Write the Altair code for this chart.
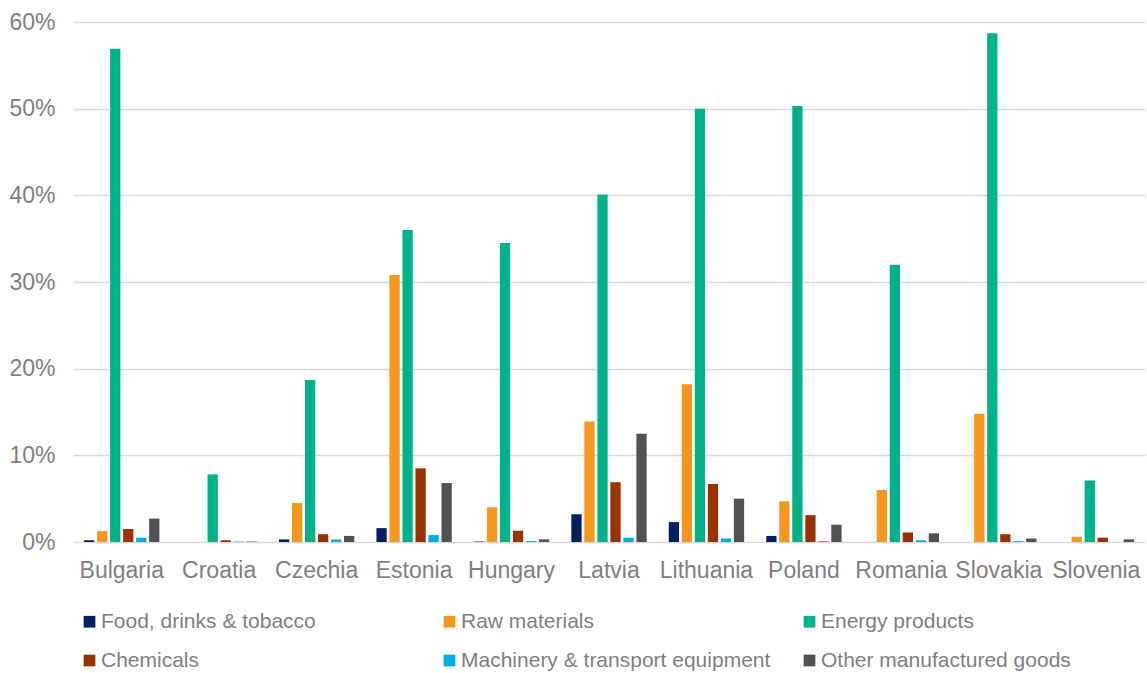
import altair as alt
import pandas as pd

countries = ["Bulgaria", "Croatia", "Czechia", "Estonia", "Hungary", "Latvia",
             "Lithuania", "Poland", "Romania", "Slovakia", "Slovenia"]

groups = ["Food, drinks & tobacco", "Raw materials", "Energy products",
          "Chemicals", "Machinery & transport equipment", "Other manufactured goods"]

colors = ["#002060", "#F7971D", "#00B189", "#993300", "#00B0E0", "#525252"]

# shares in percent, one list per product group, in country order
food      = [0.2, 0.0, 0.3, 1.6, 0.05, 3.2, 2.3, 0.7, 0.0, 0.0, 0.0]
raw       = [1.25, 0.0, 4.5, 30.8, 4.0, 13.9, 18.2, 4.7, 6.0, 14.8, 0.6]
energy    = [56.9, 7.8, 18.7, 36.0, 34.5, 40.1, 50.0, 50.3, 32.0, 58.7, 7.1]
chemicals = [1.5, 0.2, 0.9, 8.5, 1.3, 6.9, 6.7, 3.1, 1.1, 0.9, 0.5]
machinery = [0.5, 0.05, 0.3, 0.8, 0.1, 0.5, 0.4, 0.1, 0.2, 0.1, 0.0]
other     = [2.7, 0.05, 0.7, 6.8, 0.3, 12.5, 5.0, 2.0, 1.0, 0.4, 0.3]

series = [food, raw, energy, chemicals, machinery, other]

rows = []
for g, vals in zip(groups, series):
    for c, v in zip(countries, vals):
        rows.append({"country": c, "group": g, "share": v / 100.0})
df = pd.DataFrame(rows)

FONT = "Liberation Sans"
TXT = "#7F7F7F"

chart = (
    alt.Chart(df)
    .mark_bar()
    .encode(
        x=alt.X(
            "country:N",
            sort=countries,
            title=None,
            scale=alt.Scale(paddingInner=0, paddingOuter=0),
            axis=alt.Axis(labelAngle=0, labelFontSize=23, labelColor=TXT,
                          labelFont=FONT, labelPadding=17, ticks=False,
                          tickSize=0, domain=False, grid=False),
        ),
        xOffset=alt.XOffset(
            "group:N", sort=groups,
            scale=alt.Scale(paddingInner=0.21, paddingOuter=0.85),
        ),
        y=alt.Y(
            "share:Q",
            title=None,
            scale=alt.Scale(domain=[0, 0.6], nice=False),
            axis=alt.Axis(format=".0%", values=[0, 0.1, 0.2, 0.3, 0.4, 0.5, 0.6],
                          labelFontSize=23, labelColor=TXT, labelFont=FONT,
                          labelPadding=18, ticks=False, tickSize=0, domain=False,
                          gridColor="#D9D9D9", gridWidth=1.5),
        ),
        color=alt.Color(
            "group:N",
            sort=groups,
            scale=alt.Scale(domain=groups, range=colors),
            legend=alt.Legend(
                title=None, orient="none", legendX=6, legendY=589,
                direction="horizontal", columns=3, gridAlign="all",
                columnPadding=28, rowPadding=17,
                symbolType="square", symbolSize=137, symbolStrokeWidth=0,
                labelFontSize=21, labelColor=TXT, labelFont=FONT,
                labelOffset=1, labelLimit=400, padding=0,
            ),
        ),
    )
    .properties(
        width=1072,
        height=520,
        background="white",
        autosize=alt.AutoSizeParams(type="none"),
        padding={"left": 73, "top": 22, "right": 2, "bottom": 131},
    )
    .configure_view(strokeWidth=0, stroke="transparent")
)

chart.save("out.html", embed_options={"renderer": "svg", "actions": False})
